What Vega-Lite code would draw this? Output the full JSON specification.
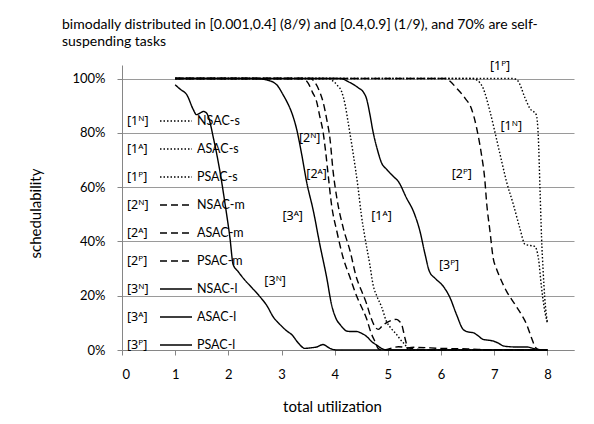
{
  "$schema": "https://vega.github.io/schema/vega-lite/v6.json",
  "width": 452,
  "height": 285,
  "autosize": {"type": "none"},
  "padding": {"left": 122, "top": 65, "right": 20, "bottom": 74},
  "background": "white",
  "title": {
    "text": ["bimodally distributed in [0.001,0.4] (8/9) and [0.4,0.9] (1/9), and 70% are self-", "suspending tasks"],
    "anchor": "start", "frame": "group", "dx": -60, "offset": 11,
    "font": "Lato", "fontSize": 14, "fontWeight": "normal", "lineHeight": 17, "color": "black"
  },
  "config": {"view": {"stroke": null}, "font": "Lato", "text": {"font": "Lato"}},
  "datasets": {
    "curves": [
      {"series":"NSAC-l","code":"[3ᴺ]","x":1,"y":0.977},{"series":"NSAC-l","code":"[3ᴺ]","x":1.1,"y":0.96},{"series":"NSAC-l","code":"[3ᴺ]","x":1.22,"y":0.94},{"series":"NSAC-l","code":"[3ᴺ]","x":1.34,"y":0.886},{"series":"NSAC-l","code":"[3ᴺ]","x":1.4,"y":0.867},{"series":"NSAC-l","code":"[3ᴺ]","x":1.46,"y":0.872},{"series":"NSAC-l","code":"[3ᴺ]","x":1.53,"y":0.879},{"series":"NSAC-l","code":"[3ᴺ]","x":1.58,"y":0.875},{"series":"NSAC-l","code":"[3ᴺ]","x":1.62,"y":0.862},{"series":"NSAC-l","code":"[3ᴺ]","x":1.72,"y":0.78},{"series":"NSAC-l","code":"[3ᴺ]","x":1.84,"y":0.66},{"series":"NSAC-l","code":"[3ᴺ]","x":1.94,"y":0.536},{"series":"NSAC-l","code":"[3ᴺ]","x":2.03,"y":0.413},{"series":"NSAC-l","code":"[3ᴺ]","x":2.09,"y":0.315},{"series":"NSAC-l","code":"[3ᴺ]","x":2.18,"y":0.29},{"series":"NSAC-l","code":"[3ᴺ]","x":2.3,"y":0.26},{"series":"NSAC-l","code":"[3ᴺ]","x":2.45,"y":0.228},{"series":"NSAC-l","code":"[3ᴺ]","x":2.6,"y":0.195},{"series":"NSAC-l","code":"[3ᴺ]","x":2.72,"y":0.165},{"series":"NSAC-l","code":"[3ᴺ]","x":2.85,"y":0.12},{"series":"NSAC-l","code":"[3ᴺ]","x":2.97,"y":0.094},{"series":"NSAC-l","code":"[3ᴺ]","x":3.1,"y":0.07},{"series":"NSAC-l","code":"[3ᴺ]","x":3.2,"y":0.055},{"series":"NSAC-l","code":"[3ᴺ]","x":3.31,"y":0.027},{"series":"NSAC-l","code":"[3ᴺ]","x":3.44,"y":0.006},{"series":"NSAC-l","code":"[3ᴺ]","x":3.55,"y":0.008},{"series":"NSAC-l","code":"[3ᴺ]","x":3.66,"y":0.011},{"series":"NSAC-l","code":"[3ᴺ]","x":3.78,"y":0.02},{"series":"NSAC-l","code":"[3ᴺ]","x":3.91,"y":0.006},{"series":"NSAC-l","code":"[3ᴺ]","x":4.04,"y":0},{"series":"NSAC-l","code":"[3ᴺ]","x":5,"y":0},{"series":"NSAC-l","code":"[3ᴺ]","x":6,"y":0},{"series":"NSAC-l","code":"[3ᴺ]","x":7,"y":0},{"series":"NSAC-l","code":"[3ᴺ]","x":8,"y":0},
      {"series":"ASAC-l","code":"[3ᴬ]","x":1,"y":1},{"series":"ASAC-l","code":"[3ᴬ]","x":2.5,"y":1},{"series":"ASAC-l","code":"[3ᴬ]","x":2.72,"y":0.995},{"series":"ASAC-l","code":"[3ᴬ]","x":2.91,"y":0.977},{"series":"ASAC-l","code":"[3ᴬ]","x":3.03,"y":0.94},{"series":"ASAC-l","code":"[3ᴬ]","x":3.1,"y":0.915},{"series":"ASAC-l","code":"[3ᴬ]","x":3.2,"y":0.87},{"series":"ASAC-l","code":"[3ᴬ]","x":3.28,"y":0.817},{"series":"ASAC-l","code":"[3ᴬ]","x":3.38,"y":0.72},{"series":"ASAC-l","code":"[3ᴬ]","x":3.47,"y":0.621},{"series":"ASAC-l","code":"[3ᴬ]","x":3.6,"y":0.511},{"series":"ASAC-l","code":"[3ᴬ]","x":3.72,"y":0.389},{"series":"ASAC-l","code":"[3ᴬ]","x":3.85,"y":0.266},{"series":"ASAC-l","code":"[3ᴬ]","x":3.94,"y":0.168},{"series":"ASAC-l","code":"[3ᴬ]","x":4.04,"y":0.11},{"series":"ASAC-l","code":"[3ᴬ]","x":4.1,"y":0.094},{"series":"ASAC-l","code":"[3ᴬ]","x":4.16,"y":0.08},{"series":"ASAC-l","code":"[3ᴬ]","x":4.22,"y":0.07},{"series":"ASAC-l","code":"[3ᴬ]","x":4.32,"y":0.068},{"series":"ASAC-l","code":"[3ᴬ]","x":4.41,"y":0.068},{"series":"ASAC-l","code":"[3ᴬ]","x":4.5,"y":0.062},{"series":"ASAC-l","code":"[3ᴬ]","x":4.6,"y":0.05},{"series":"ASAC-l","code":"[3ᴬ]","x":4.7,"y":0.03},{"series":"ASAC-l","code":"[3ᴬ]","x":4.79,"y":0.018},{"series":"ASAC-l","code":"[3ᴬ]","x":4.91,"y":0.003},{"series":"ASAC-l","code":"[3ᴬ]","x":5,"y":0},{"series":"ASAC-l","code":"[3ᴬ]","x":6,"y":0},{"series":"ASAC-l","code":"[3ᴬ]","x":7,"y":0},{"series":"ASAC-l","code":"[3ᴬ]","x":8,"y":0},
      {"series":"PSAC-l","code":"[3ᴾ]","x":1,"y":1},{"series":"PSAC-l","code":"[3ᴾ]","x":4.1,"y":1},{"series":"PSAC-l","code":"[3ᴾ]","x":4.29,"y":0.985},{"series":"PSAC-l","code":"[3ᴾ]","x":4.45,"y":0.965},{"series":"PSAC-l","code":"[3ᴾ]","x":4.54,"y":0.95},{"series":"PSAC-l","code":"[3ᴾ]","x":4.6,"y":0.925},{"series":"PSAC-l","code":"[3ᴾ]","x":4.66,"y":0.87},{"series":"PSAC-l","code":"[3ᴾ]","x":4.72,"y":0.805},{"series":"PSAC-l","code":"[3ᴾ]","x":4.8,"y":0.74},{"series":"PSAC-l","code":"[3ᴾ]","x":4.88,"y":0.69},{"series":"PSAC-l","code":"[3ᴾ]","x":4.98,"y":0.665},{"series":"PSAC-l","code":"[3ᴾ]","x":5.1,"y":0.64},{"series":"PSAC-l","code":"[3ᴾ]","x":5.2,"y":0.62},{"series":"PSAC-l","code":"[3ᴾ]","x":5.35,"y":0.56},{"series":"PSAC-l","code":"[3ᴾ]","x":5.48,"y":0.511},{"series":"PSAC-l","code":"[3ᴾ]","x":5.6,"y":0.44},{"series":"PSAC-l","code":"[3ᴾ]","x":5.7,"y":0.352},{"series":"PSAC-l","code":"[3ᴾ]","x":5.78,"y":0.29},{"series":"PSAC-l","code":"[3ᴾ]","x":5.9,"y":0.262},{"series":"PSAC-l","code":"[3ᴾ]","x":6.04,"y":0.235},{"series":"PSAC-l","code":"[3ᴾ]","x":6.17,"y":0.192},{"series":"PSAC-l","code":"[3ᴾ]","x":6.29,"y":0.131},{"series":"PSAC-l","code":"[3ᴾ]","x":6.42,"y":0.075},{"series":"PSAC-l","code":"[3ᴾ]","x":6.52,"y":0.066},{"series":"PSAC-l","code":"[3ᴾ]","x":6.6,"y":0.064},{"series":"PSAC-l","code":"[3ᴾ]","x":6.7,"y":0.052},{"series":"PSAC-l","code":"[3ᴾ]","x":6.79,"y":0.039},{"series":"PSAC-l","code":"[3ᴾ]","x":6.9,"y":0.036},{"series":"PSAC-l","code":"[3ᴾ]","x":6.98,"y":0.033},{"series":"PSAC-l","code":"[3ᴾ]","x":7.08,"y":0.025},{"series":"PSAC-l","code":"[3ᴾ]","x":7.17,"y":0.015},{"series":"PSAC-l","code":"[3ᴾ]","x":7.3,"y":0.012},{"series":"PSAC-l","code":"[3ᴾ]","x":7.42,"y":0.011},{"series":"PSAC-l","code":"[3ᴾ]","x":7.61,"y":0.011},{"series":"PSAC-l","code":"[3ᴾ]","x":7.79,"y":0.003},{"series":"PSAC-l","code":"[3ᴾ]","x":8,"y":0},
      {"series":"NSAC-m","code":"[2ᴺ]","x":1,"y":1},{"series":"NSAC-m","code":"[2ᴺ]","x":3.4,"y":1},{"series":"NSAC-m","code":"[2ᴺ]","x":3.5,"y":0.983},{"series":"NSAC-m","code":"[2ᴺ]","x":3.58,"y":0.95},{"series":"NSAC-m","code":"[2ᴺ]","x":3.66,"y":0.915},{"series":"NSAC-m","code":"[2ᴺ]","x":3.72,"y":0.86},{"series":"NSAC-m","code":"[2ᴺ]","x":3.78,"y":0.805},{"series":"NSAC-m","code":"[2ᴺ]","x":3.83,"y":0.73},{"series":"NSAC-m","code":"[2ᴺ]","x":3.87,"y":0.658},{"series":"NSAC-m","code":"[2ᴺ]","x":3.94,"y":0.536},{"series":"NSAC-m","code":"[2ᴺ]","x":4.04,"y":0.4375},{"series":"NSAC-m","code":"[2ᴺ]","x":4.16,"y":0.339},{"series":"NSAC-m","code":"[2ᴺ]","x":4.29,"y":0.266},{"series":"NSAC-m","code":"[2ᴺ]","x":4.41,"y":0.2},{"series":"NSAC-m","code":"[2ᴺ]","x":4.5,"y":0.16},{"series":"NSAC-m","code":"[2ᴺ]","x":4.6,"y":0.115},{"series":"NSAC-m","code":"[2ᴺ]","x":4.68,"y":0.065},{"series":"NSAC-m","code":"[2ᴺ]","x":4.76,"y":0.03},{"series":"NSAC-m","code":"[2ᴺ]","x":4.82,"y":0.005},{"series":"NSAC-m","code":"[2ᴺ]","x":4.9,"y":0},{"series":"NSAC-m","code":"[2ᴺ]","x":5.2,"y":0.012},{"series":"NSAC-m","code":"[2ᴺ]","x":5.5,"y":0.004},{"series":"NSAC-m","code":"[2ᴺ]","x":6,"y":0},{"series":"NSAC-m","code":"[2ᴺ]","x":7,"y":0},{"series":"NSAC-m","code":"[2ᴺ]","x":8,"y":0},
      {"series":"ASAC-m","code":"[2ᴬ]","x":1,"y":1},{"series":"ASAC-m","code":"[2ᴬ]","x":3.55,"y":1},{"series":"ASAC-m","code":"[2ᴬ]","x":3.63,"y":0.985},{"series":"ASAC-m","code":"[2ᴬ]","x":3.72,"y":0.95},{"series":"ASAC-m","code":"[2ᴬ]","x":3.78,"y":0.915},{"series":"ASAC-m","code":"[2ᴬ]","x":3.85,"y":0.85},{"series":"ASAC-m","code":"[2ᴬ]","x":3.91,"y":0.78},{"series":"ASAC-m","code":"[2ᴬ]","x":3.97,"y":0.658},{"series":"ASAC-m","code":"[2ᴬ]","x":4.04,"y":0.56},{"series":"ASAC-m","code":"[2ᴬ]","x":4.16,"y":0.45},{"series":"ASAC-m","code":"[2ᴬ]","x":4.29,"y":0.364},{"series":"ASAC-m","code":"[2ᴬ]","x":4.41,"y":0.266},{"series":"ASAC-m","code":"[2ᴬ]","x":4.5,"y":0.22},{"series":"ASAC-m","code":"[2ᴬ]","x":4.6,"y":0.17},{"series":"ASAC-m","code":"[2ᴬ]","x":4.68,"y":0.12},{"series":"ASAC-m","code":"[2ᴬ]","x":4.76,"y":0.085},{"series":"ASAC-m","code":"[2ᴬ]","x":4.82,"y":0.076},{"series":"ASAC-m","code":"[2ᴬ]","x":4.9,"y":0.09},{"series":"ASAC-m","code":"[2ᴬ]","x":4.97,"y":0.1},{"series":"ASAC-m","code":"[2ᴬ]","x":5.08,"y":0.11},{"series":"ASAC-m","code":"[2ᴬ]","x":5.16,"y":0.113},{"series":"ASAC-m","code":"[2ᴬ]","x":5.22,"y":0.105},{"series":"ASAC-m","code":"[2ᴬ]","x":5.26,"y":0.094},{"series":"ASAC-m","code":"[2ᴬ]","x":5.32,"y":0.045},{"series":"ASAC-m","code":"[2ᴬ]","x":5.38,"y":0.008},{"series":"ASAC-m","code":"[2ᴬ]","x":5.5,"y":0.01},{"series":"ASAC-m","code":"[2ᴬ]","x":6,"y":0.006},{"series":"ASAC-m","code":"[2ᴬ]","x":6.5,"y":0.004},{"series":"ASAC-m","code":"[2ᴬ]","x":7,"y":0},{"series":"ASAC-m","code":"[2ᴬ]","x":8,"y":0},
      {"series":"PSAC-m","code":"[2ᴾ]","x":1,"y":1},{"series":"PSAC-m","code":"[2ᴾ]","x":6.1,"y":1},{"series":"PSAC-m","code":"[2ᴾ]","x":6.17,"y":0.99},{"series":"PSAC-m","code":"[2ᴾ]","x":6.29,"y":0.965},{"series":"PSAC-m","code":"[2ᴾ]","x":6.45,"y":0.928},{"series":"PSAC-m","code":"[2ᴾ]","x":6.57,"y":0.89},{"series":"PSAC-m","code":"[2ᴾ]","x":6.67,"y":0.817},{"series":"PSAC-m","code":"[2ᴾ]","x":6.76,"y":0.72},{"series":"PSAC-m","code":"[2ᴾ]","x":6.82,"y":0.633},{"series":"PSAC-m","code":"[2ᴾ]","x":6.86,"y":0.536},{"series":"PSAC-m","code":"[2ᴾ]","x":6.92,"y":0.4375},{"series":"PSAC-m","code":"[2ᴾ]","x":6.98,"y":0.339},{"series":"PSAC-m","code":"[2ᴾ]","x":7.04,"y":0.3},{"series":"PSAC-m","code":"[2ᴾ]","x":7.11,"y":0.266},{"series":"PSAC-m","code":"[2ᴾ]","x":7.23,"y":0.217},{"series":"PSAC-m","code":"[2ᴾ]","x":7.39,"y":0.168},{"series":"PSAC-m","code":"[2ᴾ]","x":7.51,"y":0.131},{"series":"PSAC-m","code":"[2ᴾ]","x":7.61,"y":0.094},{"series":"PSAC-m","code":"[2ᴾ]","x":7.7,"y":0.045},{"series":"PSAC-m","code":"[2ᴾ]","x":7.78,"y":0.008},{"series":"PSAC-m","code":"[2ᴾ]","x":7.85,"y":0},{"series":"PSAC-m","code":"[2ᴾ]","x":8,"y":0},
      {"series":"ASAC-s","code":"[1ᴬ]","x":1,"y":1},{"series":"ASAC-s","code":"[1ᴬ]","x":3.9,"y":1},{"series":"ASAC-s","code":"[1ᴬ]","x":3.94,"y":0.995},{"series":"ASAC-s","code":"[1ᴬ]","x":4.05,"y":0.975},{"series":"ASAC-s","code":"[1ᴬ]","x":4.13,"y":0.952},{"series":"ASAC-s","code":"[1ᴬ]","x":4.2,"y":0.9},{"series":"ASAC-s","code":"[1ᴬ]","x":4.25,"y":0.842},{"series":"ASAC-s","code":"[1ᴬ]","x":4.35,"y":0.72},{"series":"ASAC-s","code":"[1ᴬ]","x":4.44,"y":0.597},{"series":"ASAC-s","code":"[1ᴬ]","x":4.5,"y":0.499},{"series":"ASAC-s","code":"[1ᴬ]","x":4.57,"y":0.413},{"series":"ASAC-s","code":"[1ᴬ]","x":4.66,"y":0.315},{"series":"ASAC-s","code":"[1ᴬ]","x":4.72,"y":0.242},{"series":"ASAC-s","code":"[1ᴬ]","x":4.8,"y":0.195},{"series":"ASAC-s","code":"[1ᴬ]","x":4.88,"y":0.16},{"series":"ASAC-s","code":"[1ᴬ]","x":4.97,"y":0.107},{"series":"ASAC-s","code":"[1ᴬ]","x":5.06,"y":0.08},{"series":"ASAC-s","code":"[1ᴬ]","x":5.16,"y":0.058},{"series":"ASAC-s","code":"[1ᴬ]","x":5.25,"y":0.035},{"series":"ASAC-s","code":"[1ᴬ]","x":5.32,"y":0.02},{"series":"ASAC-s","code":"[1ᴬ]","x":5.4,"y":0},{"series":"ASAC-s","code":"[1ᴬ]","x":6,"y":0},{"series":"ASAC-s","code":"[1ᴬ]","x":7,"y":0},{"series":"ASAC-s","code":"[1ᴬ]","x":8,"y":0},
      {"series":"NSAC-s","code":"[1ᴺ]","x":1,"y":1},{"series":"NSAC-s","code":"[1ᴺ]","x":6.6,"y":1},{"series":"NSAC-s","code":"[1ᴺ]","x":6.67,"y":0.995},{"series":"NSAC-s","code":"[1ᴺ]","x":6.79,"y":0.965},{"series":"NSAC-s","code":"[1ᴺ]","x":6.92,"y":0.879},{"series":"NSAC-s","code":"[1ᴺ]","x":7.04,"y":0.78},{"series":"NSAC-s","code":"[1ᴺ]","x":7.14,"y":0.695},{"series":"NSAC-s","code":"[1ᴺ]","x":7.23,"y":0.621},{"series":"NSAC-s","code":"[1ᴺ]","x":7.36,"y":0.536},{"series":"NSAC-s","code":"[1ᴺ]","x":7.48,"y":0.45},{"series":"NSAC-s","code":"[1ᴺ]","x":7.58,"y":0.389},{"series":"NSAC-s","code":"[1ᴺ]","x":7.68,"y":0.385},{"series":"NSAC-s","code":"[1ᴺ]","x":7.76,"y":0.382},{"series":"NSAC-s","code":"[1ᴺ]","x":7.83,"y":0.339},{"series":"NSAC-s","code":"[1ᴺ]","x":7.89,"y":0.229},{"series":"NSAC-s","code":"[1ᴺ]","x":7.95,"y":0.143},{"series":"NSAC-s","code":"[1ᴺ]","x":8,"y":0.1},
      {"series":"PSAC-s","code":"[1ᴾ]","x":1,"y":1},{"series":"PSAC-s","code":"[1ᴾ]","x":7.36,"y":1},{"series":"PSAC-s","code":"[1ᴾ]","x":7.45,"y":0.99},{"series":"PSAC-s","code":"[1ᴾ]","x":7.58,"y":0.928},{"series":"PSAC-s","code":"[1ᴾ]","x":7.67,"y":0.89},{"series":"PSAC-s","code":"[1ᴾ]","x":7.79,"y":0.867},{"series":"PSAC-s","code":"[1ᴾ]","x":7.83,"y":0.78},{"series":"PSAC-s","code":"[1ᴾ]","x":7.86,"y":0.597},{"series":"PSAC-s","code":"[1ᴾ]","x":7.89,"y":0.413},{"series":"PSAC-s","code":"[1ᴾ]","x":7.92,"y":0.29},{"series":"PSAC-s","code":"[1ᴾ]","x":7.95,"y":0.192},{"series":"PSAC-s","code":"[1ᴾ]","x":8,"y":0.1}
    ],
    "labels": [
      {"label":"[1ᴾ]","x":7.11,"y":1.045},
      {"label":"[1ᴺ]","x":7.32,"y":0.824},
      {"label":"[2ᴾ]","x":6.39,"y":0.647},
      {"label":"[1ᴬ]","x":4.88,"y":0.493},
      {"label":"[3ᴾ]","x":6.15,"y":0.315},
      {"label":"[2ᴺ]","x":3.53,"y":0.781},
      {"label":"[2ᴬ]","x":3.66,"y":0.647},
      {"label":"[3ᴬ]","x":3.21,"y":0.493},
      {"label":"[3ᴺ]","x":2.88,"y":0.254}
    ]
  },
  "layer": [
    {
      "data": {"name": "curves"},
      "mark": {"type": "line", "interpolate": "monotone", "clip": false},
      "encoding": {
        "x": {"field": "x", "type": "quantitative",
          "scale": {"domain": [0, 8.5], "nice": false, "zero": false},
          "axis": {"values": [0,1,2,3,4,5,6,7,8], "grid": false, "tickSize": 5, "tickColor": "#868686", "domainColor": "#868686",
            "labelFont": "Lato", "labelFontSize": 13, "labelColor": "black", "labelPadding": 13,
            "title": "total utilization", "titleFont": "Lato", "titleFontSize": 15, "titleFontWeight": "normal", "titleColor": "black",
            "titleX": 210, "titleY": 56, "titleBaseline": "middle", "titleAlign": "center"}},
        "y": {"field": "y", "type": "quantitative",
          "scale": {"domain": [0, 1.05], "nice": false},
          "axis": {"values": [0,0.2,0.4,0.6,0.8,1], "format": ".0%", "grid": true, "gridColor": "#9a9a9a", "tickSize": 5, "tickColor": "#868686", "domainColor": "#868686",
            "labelFont": "Lato", "labelFontSize": 13, "labelColor": "black", "labelPadding": 12,
            "title": "schedulability", "titleFont": "Lato", "titleFontSize": 15, "titleFontWeight": "normal", "titleColor": "black",
            "titleX": -87, "titleY": 148, "titleBaseline": "middle", "titleAlign": "center", "titleAngle": -90}},
        "color": {"field": "code", "type": "nominal",
          "scale": {"domain": ["[1ᴺ]","[1ᴬ]","[1ᴾ]","[2ᴺ]","[2ᴬ]","[2ᴾ]","[3ᴺ]","[3ᴬ]","[3ᴾ]"], "range": ["black","black","black","black","black","black","black","black","black"]},
          "legend": {"orient": "none", "legendX": -33, "legendY": 39, "title": null, "symbolType": "stroke", "symbolSize": 1024, "symbolOpacity": 0, "symbolStrokeWidth": 1.5, "rowPadding": 4, "labelFont": "Noto Sans", "labelFontSize": 12.5, "labelColor": "black", "labelOffset": 4, "padding": 0}},
        "strokeDash": {"field": "series", "type": "nominal",
          "scale": {"domain": ["NSAC-s","ASAC-s","PSAC-s","NSAC-m","ASAC-m","PSAC-m","NSAC-l","ASAC-l","PSAC-l"],
            "range": [[1.5,2],[1.5,2],[1.5,2],[7,4],[7,4],[7,4],[1,0],[1,0],[1,0]]},
          "legend": {"orient": "none", "legendX": 37, "legendY": 39, "title": null, "symbolType": "stroke", "symbolSize": 1024, "symbolStrokeColor": "black", "symbolStrokeWidth": 1.5, "rowPadding": 4, "labelFont": "Lato", "labelFontSize": 12.5, "labelColor": "black", "labelOffset": 4, "padding": 0}},
        "strokeWidth": {"field": "series", "type": "nominal",
          "scale": {"domain": ["NSAC-s","ASAC-s","PSAC-s","NSAC-m","ASAC-m","PSAC-m","NSAC-l","ASAC-l","PSAC-l"],
            "range": [1.4,1.4,1.4,2,2,2,1.6,1.6,1.6]},
          "legend": null}
      }
    },
    {
      "data": {"name": "labels"},
      "mark": {"type": "text", "font": "Noto Sans", "fontSize": 12.5, "color": "black", "align": "center", "baseline": "middle", "clip": false},
      "encoding": {
        "x": {"field": "x", "type": "quantitative"},
        "y": {"field": "y", "type": "quantitative"},
        "text": {"field": "label"}
      }
    }
  ]
}
